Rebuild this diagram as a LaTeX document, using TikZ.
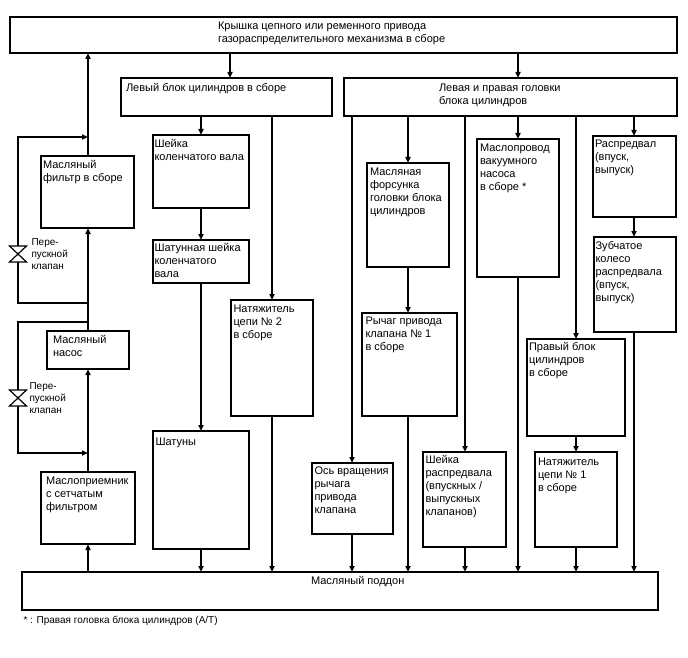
\documentclass[tikz,border=0pt]{standalone}
\usepackage{fontspec}
\setmainfont{Liberation Sans}
\usetikzlibrary{arrows.meta}
\newcommand{\mybox}[8]{%
  \node[box, minimum width={(#4)-(#2)}, minimum height={(#5)-(#3)}] (#1) at ({((#2)+(#4))/2},{((#3)+(#5))/2}) {};
  \node[txt] (#1t) at ([xshift=#6pt,yshift=-#7pt]#1.north west) {\strut #8};
}
\begin{document}
\begin{tikzpicture}[x=1pt,y=-1pt,
  box/.style={draw, line width=1.5pt, rectangle, inner sep=0pt, outer sep=0pt},
  txt/.style={anchor=north west, inner sep=0pt, outer sep=0pt, align=left, font=\fontsize{11}{13}\selectfont},
  small/.style={anchor=north west, inner sep=0pt, outer sep=0pt, align=left, font=\fontsize{10}{12}\selectfont},
  ln/.style={line width=1.5pt},
  arr/.style={line width=1.5pt, -{Triangle[length=6pt,width=5pt]}},
  valve/.style={line width=1.2pt, fill=white, line join=miter},
]
\fill[white] (0,0) rectangle (688,658);
\useasboundingbox (0,0) rectangle (688,658);

% boxes
\mybox{top}{10}{17}{677}{53}{208}{3.4}{Крышка цепного или ременного привода\\газораспределительного механизма в сборе}
\mybox{lblock}{121}{78}{332}{116}{5}{4.9}{Левый блок цилиндров в сборе}
\mybox{heads}{344}{78}{677}{116}{95}{4.9}{Левая и правая головки\\блока цилиндров}
\mybox{filter}{41}{156}{134}{228}{2}{3.5}{Масляный\\фильтр в сборе}
\mybox{crank}{153}{135}{249}{208}{1.5}{3}{Шейка\\коленчатого вала}
\mybox{conrodj}{153}{240}{249}{283}{1.5}{2.5}{Шатунная шейка\\коленчатого\\вала}
\mybox{tens2}{231}{300}{313}{416}{2.5}{3}{Натяжитель\\цепи № 2\\в сборе}
\mybox{shatuny}{153}{431}{249}{549}{2.5}{5.5}{Шатуны}
\mybox{pump}{47}{331}{129}{369}{6}{3}{Масляный\\насос}
\mybox{strainer}{41}{472}{135}{544}{5}{3.5}{Маслоприемник\\с сетчатым\\фильтром}
\mybox{pan}{22}{572}{658}{610}{289}{2.9}{Масляный поддон}
\mybox{forsunka}{367}{163}{449}{267}{3}{3}{Масляная\\форсунка\\головки блока\\цилиндров}
\mybox{vacuum}{477}{139}{559}{277}{3}{3.5}{Маслопровод\\вакуумного\\насоса\\в сборе *}
\mybox{raspred}{593}{136}{676}{217}{2}{2}{Распредвал\\(впуск,\\выпуск)}
\mybox{zubch}{594}{237}{676}{332}{1.5}{3}{Зубчатое\\колесо\\распредвала\\(впуск,\\выпуск)}
\mybox{rychag}{362}{313}{457}{416}{3.5}{2}{Рычаг привода\\клапана № 1\\в сборе}
\mybox{pravblok}{527}{339}{625}{436}{2}{2}{Правый блок\\цилиндров\\в сборе}
\mybox{tens1}{535}{452}{617}{547}{3}{4}{Натяжитель\\цепи № 1\\в сборе}
\mybox{os}{312}{463}{393}{534}{2.5}{2}{Ось вращения\\рычага\\привода\\клапана}
\mybox{sheikar}{423}{452}{506}{547}{2.5}{2}{Шейка\\распредвала\\(впускных /\\выпускных\\клапанов)}

% column coordinates
\coordinate (X88) at (88,0);
\coordinate (X201) at (201,0);
\coordinate (X230) at (230,0);
\coordinate (X272) at (272,0);
\coordinate (X352) at (352,0);
\coordinate (X408) at (408,0);
\coordinate (X465) at (465,0);
\coordinate (X517) at (518,0);
\coordinate (X576) at (576,0);
\coordinate (X634) at (634,0);

% top level
\draw[arr] (top.south -| X230) -- (lblock.north -| X230);
\draw[arr] (top.south -| X517) -- (heads.north -| X517);

% left block branch
\draw[arr] (lblock.south -| X201) -- (crank.north -| X201);
\draw[arr] (crank.south -| X201) -- (conrodj.north -| X201);
\draw[arr] (conrodj.south -| X201) -- (shatuny.north -| X201);
\draw[arr] (shatuny.south -| X201) -- (pan.north -| X201);
\draw[arr] (lblock.south -| X272) -- (tens2.north -| X272);
\draw[arr] (tens2.south -| X272) -- (pan.north -| X272);

% oil supply column
\draw[arr] (pan.north -| X88) -- (strainer.south -| X88);
\draw[arr] (strainer.north -| X88) -- (pump.south -| X88);
\draw[arr] (pump.north -| X88) -- (filter.south -| X88);
\draw[arr] (filter.north -| X88) -- (top.south -| X88);

% bypass loops
\coordinate (j1b) at (88,137);
\coordinate (j1a) at (88,303);
\coordinate (j2a) at (88,322);
\coordinate (j2b) at (88,453);
\coordinate (v1) at (18,254);
\coordinate (v2) at (18,398);
\draw[arr] (j1a) -- (j1a -| v1) -- (j1b -| v1) -- (j1b);
\draw[arr] (j2a) -- (j2a -| v2) -- (j2b -| v2) -- (j2b);
\draw[valve] (v1) -- ++(-8.5,-8) -- ++(17,0) -- cycle;
\draw[valve] (v1) -- ++(-8.5,8) -- ++(17,0) -- cycle;
\draw[valve] (v2) -- ++(-8.5,-8) -- ++(17,0) -- cycle;
\draw[valve] (v2) -- ++(-8.5,8) -- ++(17,0) -- cycle;
\node[small] (lab1) at (31.5,236.8) {\strut Пере-\\пускной\\клапан};
\node[small] (lab2) at (29.5,381.2) {\strut Пере-\\пускной\\клапан};

% heads branches
\draw[arr] (heads.south -| X352) -- (os.north -| X352);
\draw[arr] (os.south -| X352) -- (pan.north -| X352);
\draw[arr] (heads.south -| X408) -- (forsunka.north -| X408);
\draw[arr] (forsunka.south -| X408) -- (rychag.north -| X408);
\draw[arr] (rychag.south -| X408) -- (pan.north -| X408);
\draw[arr] (heads.south -| X465) -- (sheikar.north -| X465);
\draw[arr] (sheikar.south -| X465) -- (pan.north -| X465);
\draw[arr] (heads.south -| X517) -- (vacuum.north -| X517);
\draw[arr] (vacuum.south -| X517) -- (pan.north -| X517);
\draw[arr] (heads.south -| X576) -- (pravblok.north -| X576);
\draw[arr] (pravblok.south -| X576) -- (tens1.north -| X576);
\draw[arr] (tens1.south -| X576) -- (pan.north -| X576);
\draw[arr] (heads.south -| X634) -- (raspred.north -| X634);
\draw[arr] (raspred.south -| X634) -- (zubch.north -| X634);
\draw[arr] (zubch.south -| X634) -- (pan.north -| X634);

% footnote
\node[small] (note) at (23.5,614.6) {\strut * : Правая головка блока цилиндров (A/T)};
\end{tikzpicture}
\end{document}
